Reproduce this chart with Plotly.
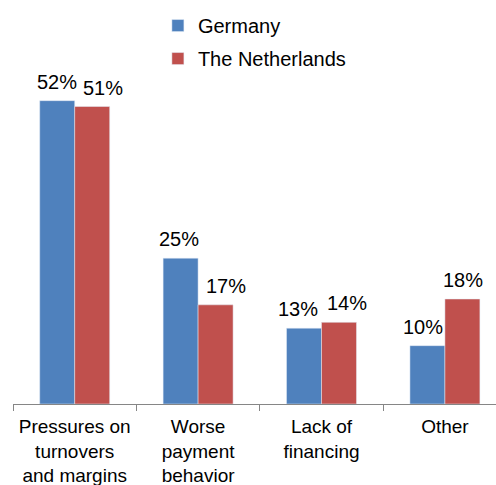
import plotly.graph_objects as go

# Reasons cited, share of respondents (%)
categories = ["Pressures on<br>turnovers<br>and margins", "Worse<br>payment<br>behavior",
              "Lack of<br>financing", "Other"]
germany = [52, 25, 13, 10]
netherlands = [51, 17, 14, 18]

BLUE = "#4F81BD"
RED = "#C0504D"
AXIS_GRAY = "#868686"
FONT = "Liberation Sans, Arial, sans-serif"

# horizontal nudges (px) that keep neighbouring value labels apart
de_label_shift = [0, -1.5, -6.5, -4]
nl_label_shift = [11, 10.5, 8, 1]

fig = go.Figure()
fig.add_trace(go.Bar(x=categories, y=germany, name="Germany", marker_color=BLUE,
                     legendgroup="de"))
fig.add_trace(go.Bar(x=categories, y=netherlands, name="The Netherlands", marker_color=RED,
                     legendgroup="nl"))

# value labels above each bar
bar_half = 0.1417
for i, (de, nl) in enumerate(zip(germany, netherlands)):
    for xv, yv, dx in ((i - bar_half, de, de_label_shift[i]),
                       (i + bar_half, nl, nl_label_shift[i])):
        fig.add_annotation(x=xv, y=yv, text=f"{yv}%", showarrow=False,
                           yanchor="bottom", yshift=6, xshift=dx,
                           font=dict(family=FONT, size=20, color="#000000"))

fig.update_layout(
    width=496, height=485,
    margin=dict(l=13, r=0, t=54, b=81),
    paper_bgcolor="white", plot_bgcolor="white",
    barmode="group", bargap=0.433, bargroupgap=0,
    font=dict(family=FONT, size=20, color="#000000"),
    legend=dict(x=0.3, y=1.137, xanchor="left", yanchor="top",
                orientation="v", tracegroupgap=4, traceorder="grouped",
                font=dict(family=FONT, size=20, color="#000000"),
                bgcolor="rgba(0,0,0,0)"),
    xaxis=dict(type="category", range=[-0.5, 3.414], showline=True,
               linecolor=AXIS_GRAY, linewidth=1, ticks="outside",
               tickson="boundaries", ticklen=6, tickcolor=AXIS_GRAY,
               ticklabelstandoff=5,
               showgrid=False, tickfont=dict(family=FONT, size=19, color="#000000")),
    yaxis=dict(range=[0, 60], visible=False, showgrid=False),
)

fig.write_html("out.html")
